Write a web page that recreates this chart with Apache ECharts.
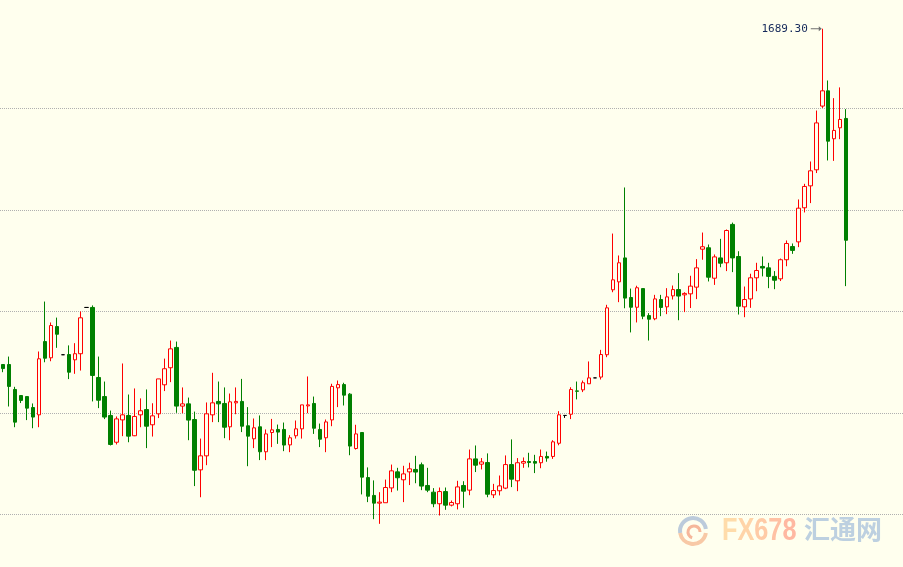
<!DOCTYPE html>
<html><head><meta charset="utf-8">
<script src="https://cdn.jsdelivr.net/npm/echarts@6/dist/echarts.min.js"></script>
<style>html,body{margin:0;padding:0;background:#FFFFEE;}#c{width:903px;height:567px;}</style>
</head><body><div id="c"></div>
<script>
// ---- data ----
const open = [1523.9,1523.9,1511.6,1508.6,1508.1,1502.7,1499.1,1535.2,1527.2,1542.6,
1528.7,1528.8,1526.2,1529.2,1552.0,1552.0,1517.5,1508.1,1498.8,1485.6,
1496.6,1498.8,1488.8,1499.1,1501.7,1494.2,1499.6,1513.9,1522.3,1532.3,
1503.4,1504.5,1496.8,1472.0,1478.9,1499.1,1505.7,1504.7,1493.2,1505.0,
1505.7,1493.7,1487.3,1493.2,1480.9,1490.4,1491.9,1491.9,1484.3,1488.8,
1492.2,1503.5,1504.7,1491.9,1487.8,1496.6,1512.4,1514.0,1509.3,1482.5,
1490.4,1468.2,1459.4,1455.6,1455.8,1463.1,1471.0,1467.1,1471.0,1472.2,
1474.5,1464.3,1461.0,1455.3,1461.3,1454.6,1455.3,1464.3,1462.0,1477.4,
1474.8,1475.6,1459.7,1461.7,1463.0,1474.6,1466.6,1475.3,1476.1,1476.1,
1475.5,1478.6,1478.6,1485.1,1498.8,1499.4,1510.9,1511.4,1514.4,1517.3,
1517.7,1528.7,1560.7,1564.6,1576.4,1556.9,1552.1,1561.3,1548.0,1546.4,
1555.9,1552.3,1557.7,1560.8,1558.2,1558.7,1562.0,1580.7,1581.4,1566.4,
1576.4,1574.0,1592.9,1577.1,1552.3,1556.2,1566.6,1572.2,1571.5,1567.3,
1566.1,1575.5,1582.0,1584.3,1601.1,1611.9,1619.8,1651.2,1658.7,1635.1,
1640.5,1645.1];
const close = [1521.9,1513.1,1495.5,1506.2,1502.4,1498.0,1526.7,1527.0,1543.1,1538.8,
1528.7,1520.1,1529.2,1546.9,1552.0,1518.5,1506.3,1498.0,1484.5,1497.1,
1499.1,1488.6,1498.3,1501.1,1493.5,1498.6,1516.8,1521.8,1531.6,1503.4,
1504.5,1496.5,1471.8,1478.9,1499.6,1505.0,1504.5,1493.0,1505.5,1505.7,
1493.5,1488.6,1492.7,1480.9,1489.7,1491.7,1490.6,1484.2,1487.8,1492.2,
1504.0,1504.0,1492.5,1487.1,1495.6,1513.1,1514.0,1508.8,1483.7,1489.7,
1468.4,1459.0,1455.6,1456.1,1463.3,1471.5,1468.1,1470.0,1472.5,1470.9,
1464.0,1462.0,1455.3,1461.3,1454.6,1455.9,1463.6,1461.5,1477.4,1474.3,
1475.9,1460.0,1461.8,1464.1,1474.6,1467.4,1475.5,1476.1,1475.6,1475.3,
1478.6,1477.8,1485.8,1499.1,1498.8,1511.6,1510.7,1514.9,1517.3,1517.3,
1528.8,1551.8,1565.6,1574.0,1556.6,1552.1,1561.7,1547.7,1546.2,1556.2,
1552.0,1557.2,1560.8,1557.6,1558.9,1562.5,1571.5,1581.9,1566.9,1576.9,
1573.8,1589.9,1576.4,1552.6,1555.9,1566.6,1570.2,1571.4,1567.3,1565.4,
1575.5,1583.5,1580.1,1600.9,1611.6,1619.3,1642.9,1658.7,1633.9,1639.2,
1644.6,1585.1];
const low = [1520.1,1503.2,1493.0,1504.9,1496.5,1492.5,1493.0,1525.0,1525.5,1532.1,
1528.7,1516.7,1519.3,1520.9,1552.0,1505.7,1502.4,1497.0,1484.0,1484.5,
1488.6,1485.6,1488.6,1493.0,1482.7,1488.4,1497.5,1510.8,1515.2,1500.1,
1499.9,1486.6,1464.0,1458.5,1474.3,1495.5,1495.5,1487.6,1486.6,1499.4,
1490.6,1473.8,1482.7,1476.8,1476.8,1483.2,1484.8,1481.2,1480.7,1487.4,
1487.4,1499.9,1489.7,1483.2,1480.7,1493.5,1502.9,1503.7,1479.2,1482.0,
1459.9,1456.1,1447.7,1445.4,1455.8,1461.0,1461.8,1456.1,1464.5,1465.4,
1462.0,1461.0,1453.6,1449.5,1452.3,1454.0,1452.5,1453.3,1459.5,1470.9,
1472.2,1458.5,1458.1,1459.4,1462.5,1463.5,1461.5,1473.0,1473.2,1470.4,
1472.8,1476.0,1477.4,1484.1,1497.6,1497.0,1506.7,1510.3,1514.4,1517.3,
1516.5,1527.5,1559.5,1554.6,1551.6,1539.7,1544.6,1546.2,1535.7,1545.7,
1547.7,1548.7,1555.9,1545.7,1549.7,1551.7,1556.1,1575.5,1564.8,1563.1,
1571.8,1569.9,1569.4,1548.5,1547.2,1551.8,1560.0,1567.3,1561.5,1561.0,
1565.0,1572.3,1578.4,1581.7,1598.8,1603.4,1618.2,1650.3,1624.4,1624.2,
1634.9,1562.5];
const high = [1523.9,1527.8,1512.9,1508.6,1508.1,1504.7,1530.3,1554.9,1544.6,1547.0,
1528.7,1533.3,1534.4,1550.0,1552.0,1553.0,1527.8,1515.5,1501.2,1498.3,
1524.4,1509.1,1512.1,1507.2,1511.6,1504.8,1516.8,1526.8,1535.7,1535.2,
1512.6,1507.6,1500.7,1487.4,1505.2,1519.8,1515.5,1512.6,1509.6,1512.6,
1516.8,1502.9,1497.3,1498.8,1491.9,1497.1,1494.3,1495.3,1489.1,1496.3,
1504.0,1518.0,1508.1,1494.8,1496.8,1514.4,1516.0,1514.9,1509.8,1494.2,
1490.4,1473.2,1466.8,1461.0,1467.2,1474.6,1473.0,1474.0,1475.5,1478.9,
1475.6,1473.0,1463.0,1463.3,1463.3,1456.9,1466.6,1466.4,1482.0,1484.0,
1477.8,1480.1,1465.1,1469.2,1479.1,1487.0,1477.8,1478.1,1480.4,1479.4,
1482.0,1481.0,1486.6,1500.9,1498.8,1512.7,1515.5,1516.0,1525.4,1517.3,
1531.1,1553.3,1588.4,1577.6,1611.1,1561.3,1562.7,1561.3,1549.2,1558.2,
1558.2,1561.5,1562.8,1568.9,1559.5,1567.6,1575.8,1588.9,1583.0,1578.1,
1585.8,1590.4,1593.8,1579.7,1562.3,1568.6,1574.0,1577.1,1574.0,1569.9,
1576.1,1585.0,1583.5,1605.2,1612.9,1623.9,1649.0,1689.3,1663.8,1655.1,
1660.4,1649.7];
const categories = open.map((_, i) => String(i + 1));
const gridValues = [1450, 1500, 1550, 1600, 1650];

// ---- build ----
const BG = '#FFFFEE';
const candleData = open.map((o, i) => {
  const v = [o, close[i], low[i], high[i]];
  if (o === close[i]) {
    return { value: v, itemStyle: { color: '#000', color0: '#000', borderColor: '#000', borderColor0: '#000' } };
  }
  return v;
});

const wmFont = 'bold 32px "Liberation Sans", sans-serif';
const chart = echarts.init(document.getElementById('c'), null, { renderer: 'canvas' });
chart.setOption({
  backgroundColor: BG,
  animation: false,
  grid: { left: -0.5, top: 0, width: 906, height: 567, containLabel: false },
  xAxis: {
    type: 'category', data: categories, max: 150, boundaryGap: true, show: false
  },
  yAxis: {
    type: 'value', min: 1424.14, max: 1703.45, show: false, splitLine: { show: false }
  },
  series: [{
    type: 'candlestick',
    data: candleData,
    barWidth: 4,
    z: 2,
    itemStyle: { color: BG, color0: '#008000', borderColor: '#FF0000', borderColor0: '#008000', borderWidth: 1 },
    markLine: {
      silent: true, z: 1, symbol: 'none', animation: false,
      label: { show: false },
      lineStyle: { color: '#b0b0b0', type: [1, 1], width: 1 },
      emphasis: { disabled: true },
      data: gridValues.map(v => ({ yAxis: v }))
    },
    markPoint: {
      silent: true, animation: false,
      symbol: 'path://M0,2L8,2L8,0L11,2.5L8,5L8,3L0,3Z',
      symbolSize: [11, 5],
      symbolOffset: [-6, 0],
      itemStyle: { color: '#707070' },
      label: {
        show: true, position: 'left', distance: 3,
        formatter: p => Number(p.value).toFixed(2),
        color: '#15295a', fontFamily: 'DejaVu Sans Mono', fontSize: 11
      },
      data: [{ type: 'max', valueDim: 'highest' }]
    }
  }],
  graphic: [
    { type: 'group', x: 693, y: 531, silent: true, children: [
      { type: 'arc', shape: { cx: 0, cy: 0, r: 13, startAngle: Math.PI * 0.95, endAngle: Math.PI * 1.95 }, style: { stroke: '#bccbdb', lineWidth: 4, fill: null } },
      { type: 'arc', shape: { cx: 0, cy: 0, r: 13, startAngle: Math.PI * 0.05, endAngle: Math.PI * 0.95 }, style: { stroke: '#f8c9a6', lineWidth: 4, fill: null } },
      { type: 'arc', shape: { cx: 1, cy: 1, r: 6, startAngle: Math.PI * 0.6, endAngle: Math.PI * 2.0 }, style: { stroke: '#f6b79a', lineWidth: 3, fill: null } }
    ]},
    { type: 'text', x: 722, y: 515, scaleX: 0.79, silent: true, style: {
      text: '{a|F}{b|X}{c|6}{d|7}{e|8}', font: wmFont,
      rich: {
        a: { fill: '#ffdcaa', font: wmFont },
        b: { fill: '#ffd4a8', font: wmFont },
        c: { fill: '#ffcba6', font: wmFont },
        d: { fill: '#ffc1a4', font: wmFont },
        e: { fill: '#ffb8a2', font: wmFont }
      }
    }},
    { type: 'text', x: 804, y: 516, silent: true, style: {
      text: '汇通网', font: 'bold 26px "Noto Sans CJK SC", sans-serif', fill: '#bdd0e0'
    }}
  ]
});
</script>
</body></html>
